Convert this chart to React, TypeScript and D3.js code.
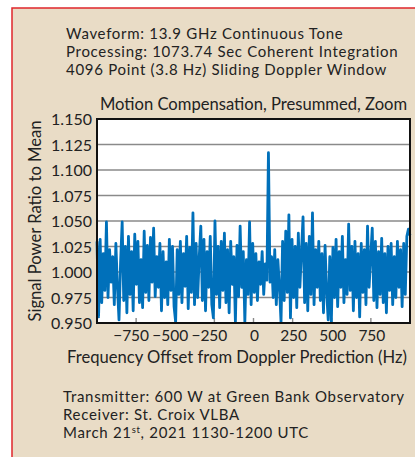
import React, { useEffect, useRef } from "react";
import * as d3 from "d3";

// signal power ratio to mean left to right (200 bins, -1000..1000 Hz)
const powerRatio = [
  1.030, 0.956, 1.032, 0.970, 1.018, 0.982, 1.049, 0.975, 1.022, 0.990,
  1.015, 0.968, 1.028, 0.985, 0.953, 1.010, 1.049, 0.972, 1.025, 0.960,
  1.035, 0.978, 1.020, 0.962, 1.037, 0.988, 1.030, 0.970, 1.012, 0.965,
  1.040, 0.980, 1.026, 0.972, 1.034, 0.990, 1.043, 0.976, 1.015, 0.985,
  1.028, 0.962, 1.020, 0.975, 1.010, 0.968, 1.032, 0.982, 1.025, 0.966,
  0.951, 1.022, 0.978, 1.030, 0.970, 1.018, 0.986, 1.035, 0.964, 1.024,
  0.980, 1.058, 0.968, 1.028, 0.975, 1.015, 1.045, 0.972, 1.032, 0.962,
  1.020, 0.985, 1.035, 0.968, 0.955, 1.050, 0.978, 1.025, 0.965, 1.030,
  0.982, 1.038, 0.970, 1.022, 0.960, 1.030, 0.988, 1.015, 0.951, 1.026,
  0.976, 1.045, 0.985, 1.020, 0.951, 1.012, 0.978, 1.049, 0.968, 1.028,
  0.980, 1.018, 0.972, 1.010, 0.988, 1.020, 0.978, 1.008, 0.992, 1.117,
  0.990, 1.015, 0.975, 1.022, 0.968, 1.012, 0.985, 0.951, 1.030, 0.972,
  1.040, 0.980, 1.056, 0.955, 1.032, 0.975, 1.025, 0.965, 1.038, 0.985,
  1.020, 1.054, 0.970, 1.028, 0.962, 1.035, 0.978, 1.058, 0.968, 1.022,
  0.985, 1.030, 0.972, 1.018, 0.960, 1.026, 0.980, 0.953, 1.015, 0.951,
  1.024, 0.975, 1.032, 0.966, 1.020, 0.985, 1.035, 0.970, 1.012, 0.978,
  1.047, 0.982, 1.025, 0.962, 1.030, 0.975, 1.018, 0.956, 1.028, 0.980,
  1.022, 0.968, 1.045, 0.985, 1.015, 1.043, 0.972, 1.030, 0.965, 1.020,
  0.978, 1.033, 0.970, 1.018, 0.960, 1.025, 0.982, 1.028, 0.968, 1.015,
  0.975, 1.030, 0.985, 1.022, 0.966, 1.028, 0.978, 1.035, 1.042, 1.036,
];

const freqDomain = [-1000, 1000];
const xTicks = [-750, -500, -250, 0, 250, 500, 750];
const yTicks = [0.95, 0.975, 1.0, 1.025, 1.05, 1.075, 1.1, 1.125, 1.15];

const headerLines = [
  "Waveform: 13.9 GHz Continuous Tone",
  "Processing: 1073.74 Sec Coherent Integration",
  "4096 Point (3.8 Hz) Sliding Doppler Window",
];
const footerLines = [
  "Transmitter: 600 W at Green Bank Observatory",
  "Receiver: St. Croix VLBA",
];
const plotTitle = "Motion Compensation, Presummed, Zoom";
const xLabel = "Frequency Offset from Doppler Prediction (Hz)";
const yLabel = "Signal Power Ratio to Mean";

export default function App() {
  const svgRef = useRef<SVGSVGElement>(null);

  useEffect(() => {
    const w = 415;
    const h = 457;
    const m = { left: 97, right: 410, top: 119, bottom: 323 };
    const font = "Lato, sans-serif";

    const svg = d3.select(svgRef.current).attr("width", w).attr("height", h);
    svg.selectAll("*").remove();

    // page panel
    svg.append("rect").attr("width", w).attr("height", h).attr("fill", "#fff");
    svg
      .append("rect")
      .attr("x", 12)
      .attr("y", 8)
      .attr("width", w + 20)
      .attr("height", h + 20)
      .attr("fill", "#e9dcc6")
      .attr("stroke", "#e0262b")
      .attr("stroke-width", 1.5);

    const x = d3.scaleLinear().domain(freqDomain).range([m.left, m.right]);
    const y = d3.scaleLinear().domain([0.95, 1.15]).range([m.bottom, m.top]);
    const step = (freqDomain[1] - freqDomain[0]) / (powerRatio.length - 1);

    svg
      .append("rect")
      .attr("x", m.left)
      .attr("y", m.top)
      .attr("width", m.right - m.left)
      .attr("height", m.bottom - m.top)
      .attr("fill", "#fff");

    // grid
    svg
      .append("g")
      .selectAll("line")
      .data(yTicks)
      .join("line")
      .attr("x1", m.left)
      .attr("x2", m.right)
      .attr("y1", (d) => y(d))
      .attr("y2", (d) => y(d))
      .attr("stroke", "#8a8a8a")
      .attr("stroke-width", 1.4);

    // x ticks pointing inward
    svg
      .append("g")
      .selectAll("line")
      .data(xTicks)
      .join("line")
      .attr("x1", (d) => x(d))
      .attr("x2", (d) => x(d))
      .attr("y1", m.bottom)
      .attr("y2", m.bottom - 5)
      .attr("stroke", "#8a8a8a")
      .attr("stroke-width", 1.4);

    const line = d3
      .line<number>()
      .x((d, i) => x(freqDomain[0] + i * step))
      .y((d) => y(d));

    svg
      .append("path")
      .datum(powerRatio)
      .attr("d", line)
      .attr("fill", "none")
      .attr("stroke", "#0070ba")
      .attr("stroke-width", 2.8)
      .attr("stroke-linejoin", "round");

    svg
      .append("rect")
      .attr("x", m.left)
      .attr("y", m.top)
      .attr("width", m.right - m.left)
      .attr("height", m.bottom - m.top)
      .attr("fill", "none")
      .attr("stroke", "#111")
      .attr("stroke-width", 2);

    const txt = (sel: any, size = 16.6) =>
      sel.attr("font-family", font).attr("font-size", size).attr("fill", "#222");
    // stacked lines sit 18px apart, so a slightly smaller face with some tracking
    const stacked = (sel: any) => sel.call(txt, 15).attr("letter-spacing", 0.7);

    // y tick labels
    svg
      .append("g")
      .selectAll("text")
      .data(yTicks)
      .join("text")
      .call(txt, 16)
      .attr("x", m.left - 5)
      .attr("y", (d) => y(d) + 6)
      .attr("text-anchor", "end")
      .text((d) => d3.format(".3f")(d));

    // x tick labels, digits centred on the tick and the minus hanging left
    svg
      .append("g")
      .selectAll("text")
      .data(xTicks)
      .join("text")
      .call(txt, 15.5)
      .attr("x", (d) => x(d) + (d < 0 ? -5 : 1))
      .attr("y", 341)
      .attr("text-anchor", "middle")
      .text((d) => d3.format("d")(d).replace("-", "\u2212"));

    svg
      .append("text")
      .call(txt)
      .attr("x", 237)
      .attr("y", 363)
      .attr("text-anchor", "middle")
      .text(xLabel);

    svg
      .append("text")
      .call(txt)
      .attr("transform", `translate(41,${(m.top + m.bottom) / 2}) rotate(-90)`)
      .attr("text-anchor", "middle")
      .text(yLabel);

    svg
      .append("text")
      .call(txt)
      .attr("x", (m.left + m.right) / 2)
      .attr("y", 110)
      .attr("text-anchor", "middle")
      .text(plotTitle);

    svg
      .append("g")
      .selectAll("text")
      .data(headerLines)
      .join("text")
      .call(stacked)
      .attr("x", 66)
      .attr("y", (d, i) => 39 + i * 18)
      .text((d) => d);

    const footer = svg.append("g");
    footer
      .selectAll("text.line")
      .data(footerLines)
      .join("text")
      .attr("class", "line")
      .call(stacked)
      .attr("x", 63)
      .attr("y", (d, i) => 402 + i * 18)
      .text((d) => d);
    const d = footer.append("text").call(stacked).attr("x", 63).attr("y", 438);
    d.append("tspan").text("March 21");
    d.append("tspan").attr("font-size", 9.5).attr("dy", -5).text("st");
    d.append("tspan").attr("dy", 5).text(", 2021 1130-1200 UTC");
  }, []);

  return (
    <div style={{ position: "absolute", left: 0, top: 0 }}>
      <svg ref={svgRef}></svg>
    </div>
  );
}
